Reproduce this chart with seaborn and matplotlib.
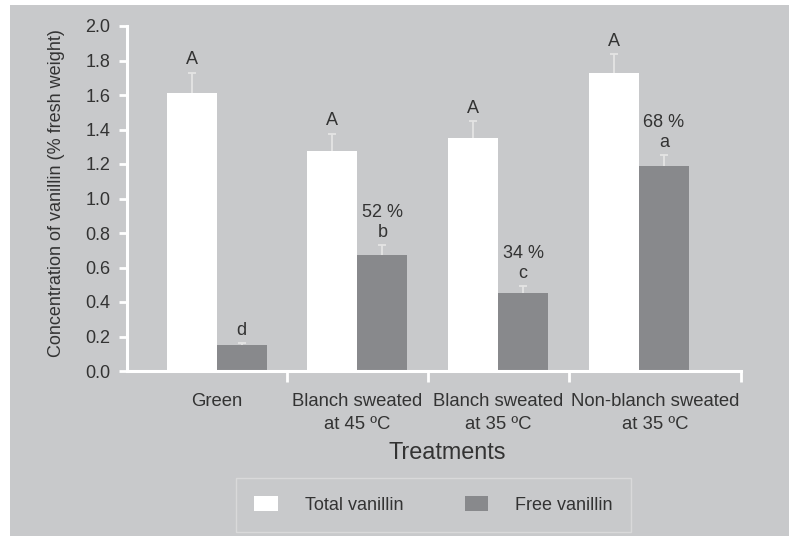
import pandas as pd
import matplotlib.pyplot as plt
import seaborn as sns
from matplotlib.patches import Rectangle, Patch

# Data
treatments = ['Green', 'Blanch sweated\nat 45 ºC', 'Blanch sweated\nat 35 ºC',
              'Non-blanch sweated\nat 35 ºC']
total_vanillin = [1.61, 1.275, 1.35, 1.73]
total_err = [0.12, 0.10, 0.10, 0.105]
free_vanillin = [0.15, 0.67, 0.45, 1.19]
free_err = [0.012, 0.06, 0.04, 0.06]
total_letters = ['A', 'A', 'A', 'A']
free_letters = ['d', 'b', 'c', 'a']
free_percent = ['', '52 %', '34 %', '68 %']

df = pd.DataFrame({
    'Treatment': treatments * 2,
    'Type': ['Total vanillin'] * 4 + ['Free vanillin'] * 4,
    'Value': total_vanillin + free_vanillin,
})

bg = '#c8c9cb'
bar_gray = '#88898c'
txt = '#333333'

sns.set_theme(style='white')
plt.rcParams['font.family'] = ['Liberation Sans', 'DejaVu Sans']

fig = plt.figure(figsize=(7.89, 5.36), dpi=100, facecolor='white')
fig.patches.append(Rectangle((10 / 789, 0), 1, 1 - 5 / 536, transform=fig.transFigure,
                             facecolor=bg, edgecolor='none', zorder=-10))
ax = fig.add_axes([127 / 789, 1 - 371 / 536, 614 / 789, 345 / 536])
ax.set_facecolor('none')

sns.barplot(data=df, x='Treatment', y='Value', hue='Type', order=treatments,
            palette={'Total vanillin': 'white', 'Free vanillin': bar_gray},
            width=0.71, errorbar=None, saturation=1, linewidth=0, ax=ax, legend=False)

# error bars (upper only, cap on top) and letters
for cont, errs, letters in zip(ax.containers, [total_err, free_err],
                               [total_letters, free_letters]):
    xs = [b.get_x() + b.get_width() / 2 for b in cont]
    hs = [b.get_height() for b in cont]
    tops = [h + e for h, e in zip(hs, errs)]
    ax.vlines(xs, hs, tops, color='#e4e4e4', lw=1.3, zorder=3)
    ax.plot(xs, tops, ls='none', marker='_', ms=6, mew=1.3, color='#e4e4e4', zorder=3)
    for x, t, lab in zip(xs, tops, letters):
        ax.annotate(lab, (x, t), xytext=(0, 6), textcoords='offset points',
                    ha='center', va='baseline', fontsize=13, color=txt)

free_cont = ax.containers[1]
for b, e, p in zip(free_cont, free_err, free_percent):
    if p:
        x = b.get_x() + b.get_width() / 2
        ax.annotate(p, (x, b.get_height() + e), xytext=(0, 20.5),
                    textcoords='offset points', ha='center', va='baseline',
                    fontsize=13, color=txt)

xmin, xmax = -0.636, 3.725
ax.set_xlim(xmin, xmax)
ax.set_ylim(0, 2.0)
ax.set_yticks([i / 5 for i in range(11)])
ax.set_yticklabels([f'{i / 5:.1f}' for i in range(11)])

# group dividers as major ticks, labels as minor ticks
bounds = [0.5, 1.5, 2.5, xmax]
ax.set_xticks(bounds)
ax.set_xticklabels([])
label_pos = [0, 1, 2, (2.5 + xmax) / 2]
ax.set_xticks(label_pos, minor=True)
ax.set_xticklabels(treatments, minor=True, fontsize=13.3, color=txt, linespacing=1.45)
ax.tick_params(axis='x', which='major', bottom=True, length=8, width=2,
               color='white', direction='out')
ax.tick_params(axis='x', which='minor', bottom=True, length=0, pad=16)
ax.tick_params(axis='y', left=True, length=6, width=2, color='white', direction='out',
               labelsize=13, labelcolor=txt, pad=6)

for s in ['top', 'right']:
    ax.spines[s].set_visible(False)
for s in ['left', 'bottom']:
    ax.spines[s].set_color('white')
    ax.spines[s].set_linewidth(2.2)

ax.set_ylabel('Concentration of vanillin (% fresh weight)', fontsize=13, color=txt)
ax.yaxis.set_label_coords(-0.101, 0.516)
ax.set_xlabel('Treatments', fontsize=16.8, color=txt)
ax.xaxis.set_label_coords(0.521, -0.203)

handles = [Patch(facecolor='white', edgecolor='none', label='Total vanillin'),
           Patch(facecolor=bar_gray, edgecolor='none', label='Free vanillin')]
leg = fig.legend(handles=handles, loc='center', ncol=2,
                 bbox_to_anchor=(433.5 / 789, 1 - 505 / 536), fontsize=13,
                 frameon=True, fancybox=False, handlelength=1.3, handleheight=0.85,
                 handletextpad=1.5, columnspacing=3.4, borderpad=1.0)
leg.get_frame().set_facecolor('none')
leg.get_frame().set_edgecolor('#dedede')
leg.get_frame().set_linewidth(1.0)
for t in leg.get_texts():
    t.set_color(txt)

fig.savefig('out.png', dpi=100, facecolor=fig.get_facecolor())
